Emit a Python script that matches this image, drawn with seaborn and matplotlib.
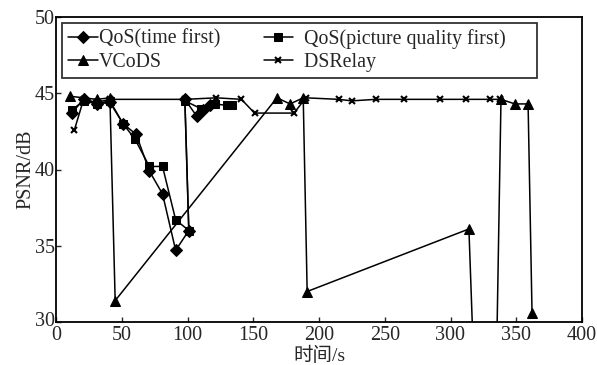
import numpy as np
import pandas as pd
import seaborn as sns
import matplotlib.pyplot as plt
from matplotlib.transforms import ScaledTranslation

# series (time in s, PSNR in dB)
qos_time_x = [12, 21, 31, 41, 51, 61, 71, 81, 91, 101, 98, 107, 112, 117]
qos_time_y = [43.7, 44.6, 44.3, 44.4, 43.0, 42.3, 39.9, 38.4, 34.7, 36.0, 44.6, 43.5, 43.9, 44.2]

qos_pic_x = [12, 21, 31, 41, 51, 60, 71, 81, 91, 101, 98, 110, 121, 130, 134]
qos_pic_y = [43.9, 44.5, 44.3, 44.5, 43.0, 42.0, 40.2, 40.2, 36.7, 36.0, 44.5, 44.0, 44.3, 44.2, 44.2]

vcods_x = [11, 21, 31, 41, 45, 168, 178, 188, 191, 314, 318.6, 334.5, 338.4, 349, 359, 362]
vcods_y = [44.8, 44.7, 44.6, 44.7, 31.4, 44.7, 44.3, 44.7, 32.0, 36.1, 25.0, 25.0, 44.6, 44.3, 44.3, 30.6]

dsrelay_x = [14, 21, 31, 41, 98, 122, 141, 151, 181, 190, 215, 225, 243, 265, 292, 312, 330, 338]
dsrelay_y = [42.6, 44.6, 44.4, 44.6, 44.6, 44.7, 44.6, 43.7, 43.7, 44.7, 44.6, 44.5, 44.6, 44.6, 44.6, 44.6, 44.6, 44.6]

labels = ['QoS(time first)', '  QoS(picture quality first)     ', 'VCoDS', '  DSRelay']

sns.set_style('ticks')
plt.rcParams['font.family'] = ['Liberation Serif', 'Noto Sans CJK SC']

fig = plt.figure(figsize=(5.97, 3.65), dpi=100)
ax = fig.add_axes([56 / 597, 1 - 322 / 365, 526 / 597, 305 / 365])

common = dict(ax=ax, color='k', estimator=None, sort=False, linewidth=1.1, mec='k')
sns.lineplot(x=qos_time_x, y=qos_time_y, marker='D', markersize=6, label=labels[0], **common)
sns.lineplot(x=qos_pic_x, y=qos_pic_y, marker='s', markersize=6, label=labels[1], **common)
sns.lineplot(x=vcods_x, y=vcods_y, marker='^', markersize=7.5, label=labels[2], **common)
sns.lineplot(x=dsrelay_x, y=dsrelay_y, marker='x', markersize=5, mew=1.5, label=labels[3], **common)

ax.set_xlim(0, 400)
ax.set_ylim(30, 50)
ax.set_xticks(np.arange(0, 401, 50))
ax.set_yticks(np.arange(30, 51, 5))
ax.tick_params(direction='in', length=3.5, width=1, labelsize=14.5)
ax.tick_params(axis='x', pad=3)
ax.tick_params(axis='y', pad=1)
for s in ax.spines.values():
    s.set_linewidth(1.3)
    s.set_color('k')

# nudge the "30" label up a little so it clears the "0" below it
lab30 = ax.get_yticklabels()[0]
lab30.set_transform(lab30.get_transform() + ScaledTranslation(0, 3 / 100, fig.dpi_scale_trans))

ax.set_xlabel('时间/s', fontsize=14, labelpad=1)
ax.set_ylabel('PSNR/dB', fontsize=14.5, labelpad=-0.5)

# row-wise legend order: time first, picture first / VCoDS, DSRelay
h, l = ax.get_legend_handles_labels()
order = [0, 2, 1, 3]
leg = ax.legend([h[i] for i in order], [l[i] for i in order], ncol=2,
                loc='upper left', bbox_to_anchor=(0.011, 0.98), borderaxespad=0,
                fontsize=14.3, handlelength=1.5, handletextpad=0.05, columnspacing=2.2,
                labelspacing=0.22, borderpad=0.3, frameon=True, fancybox=False)
leg.get_frame().set_edgecolor('k')
leg.get_frame().set_linewidth(1.3)

fig.savefig('out.png', dpi=100)
